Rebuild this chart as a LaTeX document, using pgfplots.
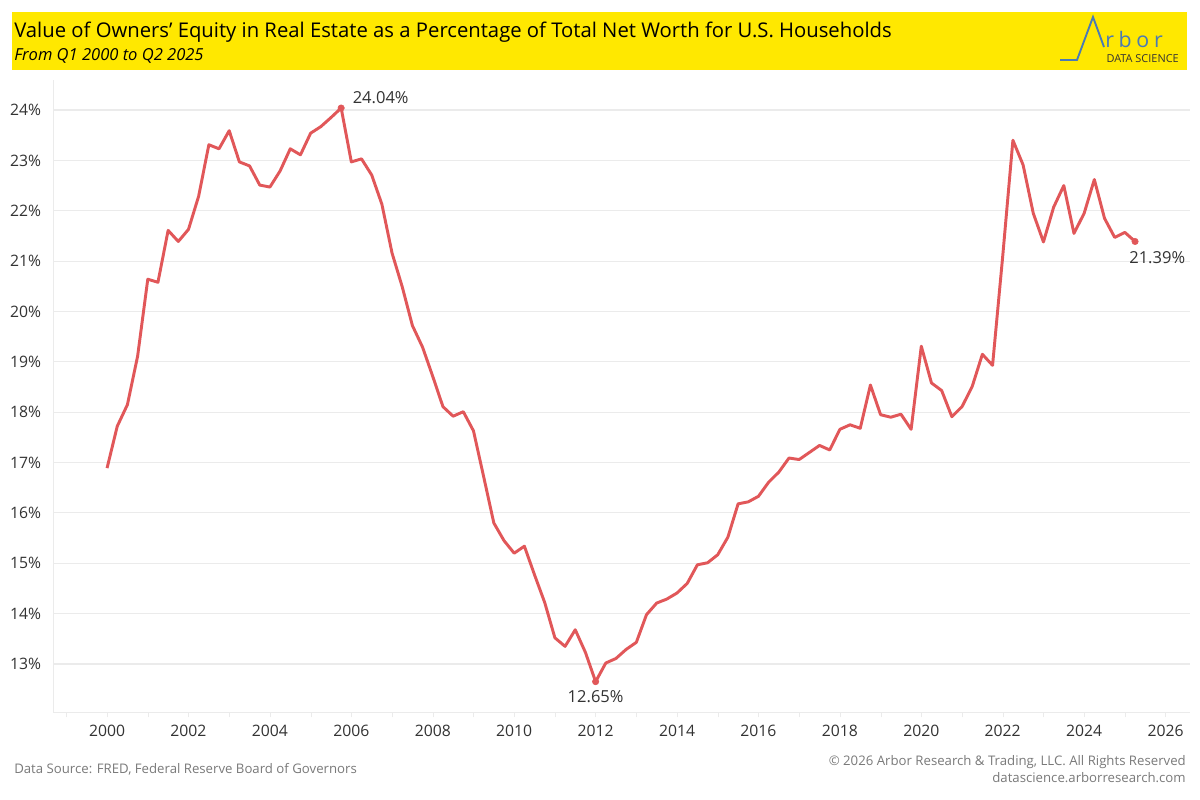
\documentclass[border=0pt]{standalone}
\usepackage{fontspec}
\setmainfont{Open Sans}
\usepackage{pgfplots}
\pgfplotsset{compat=1.18}

\definecolor{band}{HTML}{FFE800}
\definecolor{redline}{HTML}{E15759}
\definecolor{txt}{HTML}{333333}
\definecolor{foot}{HTML}{7A7A7A}
\definecolor{gridc}{HTML}{EBEBEB}
\definecolor{logo}{HTML}{4A7AB5}

\begin{document}
\begin{tikzpicture}
% header, logo and footer (1 px = 0.75pt, y downwards)
\begin{scope}[x=0.75pt,y=-0.75pt]
\fill[white] (0,0) rectangle (1200,800);
\fill[band] (12,12) rectangle (1187,70);
\node[anchor=base west, inner sep=0, text=black, font=\fontsize{15.2}{17}\selectfont]
  at (14,37.3) {Value of Owners’ Equity in Real Estate as a Percentage of Total Net Worth for U.S. Households};
\node[anchor=base west, inner sep=0, text=black, font=\fontsize{12.4}{14}\selectfont\itshape]
  at (14,60) {From Q1 2000 to Q2 2025};
\draw[logo, line width=1.4pt, line join=miter] (1060,60) -- (1077,60) -- (1093,17) -- (1104,47);
\node[anchor=base west, inner sep=0, text=logo, font=\fontsize{16}{16}\selectfont\addfontfeature{LetterSpace=22}] at (1105,47) {rbor};
\node[anchor=base east, inner sep=0, text=txt, font=\fontsize{8.2}{9}\selectfont] at (1179,62.5) {DATA SCIENCE};
\node[anchor=base west, inner sep=0, text=foot, font=\fontsize{9.9}{11}\selectfont]
  at (14,773) {Data Source: FRED, Federal Reserve Board of Governors};
\node[anchor=base east, inner sep=0, text=foot, font=\fontsize{9.9}{11}\selectfont]
  at (1186,765) {© 2026 Arbor Research \& Trading, LLC. All Rights Reserved};
\node[anchor=base east, inner sep=0, text=foot, font=\fontsize{9.9}{11}\selectfont]
  at (1186,782) {datascience.arborresearch.com};
\end{scope}

\begin{axis}[
    at={(39.75pt,-534pt)}, anchor=south west,
    scale only axis,
    width=852.75pt, height=474pt,
    xmin=1998.672, xmax=2026.6,
    ymin=12.047, ymax=24.596,
    axis x line=bottom, axis y line=left,
    axis line style={gridc, -},
    xtick={2000,2002,...,2026},
    minor xtick={1999,2001,...,2025},
    tick align=outside,
    major tick length=4pt, minor tick length=4pt,
    xtick style={gridc},
    ytick={13,...,24},
    ytick style={draw=none},
    ymajorgrids=true,
    grid style={gridc, line width=0.8pt},
    /pgf/number format/1000 sep={},
    /pgf/number format/assume math mode=true,
    yticklabel={\pgfmathprintnumber{\tick}\%},
    ticklabel style={font=\fontsize{11.8}{13}\selectfont, text=txt},
    xticklabel style={yshift=-2pt},
    yticklabel style={xshift=-1.5pt},
]
\addplot[redline, line width=2.2pt, line join=round] coordinates {
(2000.00,16.89)(2000.25,17.72)(2000.50,18.15)(2000.75,19.11)
(2001.00,20.64)(2001.25,20.58)(2001.50,21.61)(2001.75,21.39)
(2002.00,21.63)(2002.25,22.29)(2002.50,23.31)(2002.75,23.23)
(2003.00,23.59)(2003.25,22.97)(2003.50,22.89)(2003.75,22.51)
(2004.00,22.47)(2004.25,22.79)(2004.50,23.23)(2004.75,23.11)
(2005.00,23.54)(2005.25,23.67)(2005.50,23.85)(2005.75,24.04)
(2006.00,22.97)(2006.25,23.03)(2006.50,22.71)(2006.75,22.13)
(2007.00,21.16)(2007.25,20.49)(2007.50,19.72)(2007.75,19.29)
(2008.00,18.71)(2008.25,18.11)(2008.50,17.92)(2008.75,18.01)
(2009.00,17.63)(2009.25,16.72)(2009.50,15.80)(2009.75,15.45)
(2010.00,15.20)(2010.25,15.34)(2010.50,14.77)(2010.75,14.22)
(2011.00,13.52)(2011.25,13.35)(2011.50,13.68)(2011.75,13.23)
(2012.00,12.65)(2012.25,13.02)(2012.50,13.11)(2012.75,13.29)
(2013.00,13.43)(2013.25,13.98)(2013.50,14.21)(2013.75,14.29)
(2014.00,14.41)(2014.25,14.60)(2014.50,14.97)(2014.75,15.01)
(2015.00,15.17)(2015.25,15.52)(2015.50,16.18)(2015.75,16.22)
(2016.00,16.33)(2016.25,16.61)(2016.50,16.81)(2016.75,17.09)
(2017.00,17.06)(2017.25,17.20)(2017.50,17.34)(2017.75,17.25)
(2018.00,17.66)(2018.25,17.75)(2018.50,17.68)(2018.75,18.54)
(2019.00,17.95)(2019.25,17.90)(2019.50,17.96)(2019.75,17.66)
(2020.00,19.31)(2020.25,18.58)(2020.50,18.43)(2020.75,17.91)
(2021.00,18.11)(2021.25,18.51)(2021.50,19.15)(2021.75,18.93)
(2022.00,21.10)(2022.25,23.40)(2022.50,22.91)(2022.75,21.95)
(2023.00,21.38)(2023.25,22.07)(2023.50,22.50)(2023.75,21.55)
(2024.00,21.95)(2024.25,22.62)(2024.50,21.85)(2024.75,21.47)
(2025.00,21.57)(2025.25,21.39)
};
\addplot[only marks, mark=*, mark size=2.4pt, redline] coordinates {
(2005.75,24.04)(2012.00,12.65)(2025.25,21.39)
};
\node[anchor=west, inner sep=0, text=txt, font=\fontsize{12.4}{14}\selectfont,
      xshift=8.5pt, yshift=8pt] at (axis cs:2005.75,24.04) {24.04\%};
\node[anchor=center, inner sep=0, text=txt, font=\fontsize{12.4}{14}\selectfont,
      yshift=-11.5pt] at (axis cs:2012.00,12.65) {12.65\%};
\node[anchor=west, inner sep=0, text=txt, font=\fontsize{12.4}{14}\selectfont,
      xshift=-4.5pt, yshift=-12pt] at (axis cs:2025.25,21.39) {21.39\%};
\end{axis}
\end{tikzpicture}
\end{document}
